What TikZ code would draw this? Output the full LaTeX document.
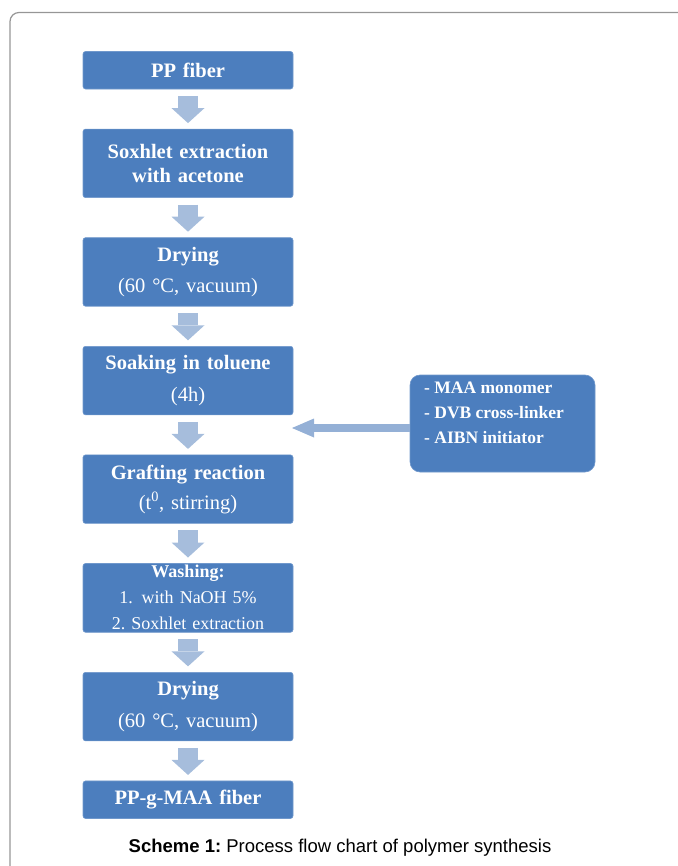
\documentclass[tikz,border=0pt]{standalone}
\usepackage{fontspec}
\setmainfont{Liberation Serif}
\newfontfamily\captionfont{Liberation Sans}
\usetikzlibrary{matrix,arrows.meta}
\frenchspacing

\definecolor{boxblue}{RGB}{76,126,190}
\definecolor{boxedge}{RGB}{112,152,204}
\definecolor{arrowblue}{RGB}{166,189,220}
\definecolor{feedblue}{RGB}{148,176,214}
\definecolor{framegray}{RGB}{150,150,150}

\tikzset{
  stepbox/.style={fill=boxblue, draw=boxedge, line width=0.6pt, rounded corners=2.5pt,
    text=white, minimum width=210pt, text width=200pt, align=center,
    inner sep=2pt, outer sep=0pt, font=\fontsize{20.5}{24}\selectfont\bfseries},
  short/.style={minimum height=37.5pt},
  tall/.style={minimum height=68.5pt},
  downarrow/.style={draw=arrowblue, line width=20pt,
    -{Triangle[width=33pt,length=15pt,line width=0pt]}, shorten <=7pt, shorten >=6pt},
  feedarrow/.style={draw=feedblue, line width=7.5pt,
    -{Triangle[width=19pt,length=22pt,line width=0pt]}},
  sidebox/.style={fill=boxblue, draw=boxedge, line width=0.6pt, rounded corners=10pt,
    minimum width=185pt, minimum height=97pt, outer sep=0pt},
  sidetext/.style={text=white, align=left, anchor=west, inner sep=0pt,
    font=\fontsize{17.5}{25}\selectfont\bfseries},
  captext/.style={font=\captionfont\fontsize{18.5}{22}\selectfont}
}

\begin{document}
\begin{tikzpicture}[x=1pt,y=-1pt]
\useasboundingbox (0,0) rectangle (677,866);

\draw[framegray, line width=1.2pt, rounded corners=9pt] (10,870) -- (10,12.5) -- (680,12.5);

\matrix (a) [matrix of nodes, row sep=39.5pt, nodes={stepbox}, anchor=north,
  inner sep=0pt, ampersand replacement=\&] at (188,51) {
|[short]| PP fiber\\
|[tall]| {Soxhlet extraction\\with acetone}\\
|[tall]| {Drying\\[7pt]\mdseries (60 °C, vacuum)}\\
|[tall]| {Soaking in toluene\\[8pt]\mdseries (4h)}\\
|[tall]| {Grafting reaction\\[6pt]\mdseries (t\textsuperscript{0}, stirring)}\\
|[tall,font=\fontsize{18}{26}\selectfont\bfseries]| {Washing:\\\mdseries 1.\ \,with NaOH 5\%\\2. Soxhlet extraction}\\
|[tall]| {Drying\\[8pt]\mdseries (60 °C, vacuum)}\\
|[short]| PP-g-MAA fiber\\};

\foreach \i/\j in {1/2, 2/3, 3/4, 4/5, 5/6, 6/7, 7/8}
    \draw[downarrow] (a-\i-1) -- (a-\j-1);

\node[sidebox] (rbox) at (502.5,423.5) {};
\node[sidetext] (rtext) at (424,413) {- MAA monomer\\- DVB cross-linker\\- AIBN initiator};

\coordinate (feed) at (292,428);
\draw[feedarrow] (rbox.west |- feed) -- (feed);

\node[captext] (cap) at (340,848) {{\bfseries Scheme 1:} Process flow chart of polymer synthesis};

\end{tikzpicture}
\end{document}
